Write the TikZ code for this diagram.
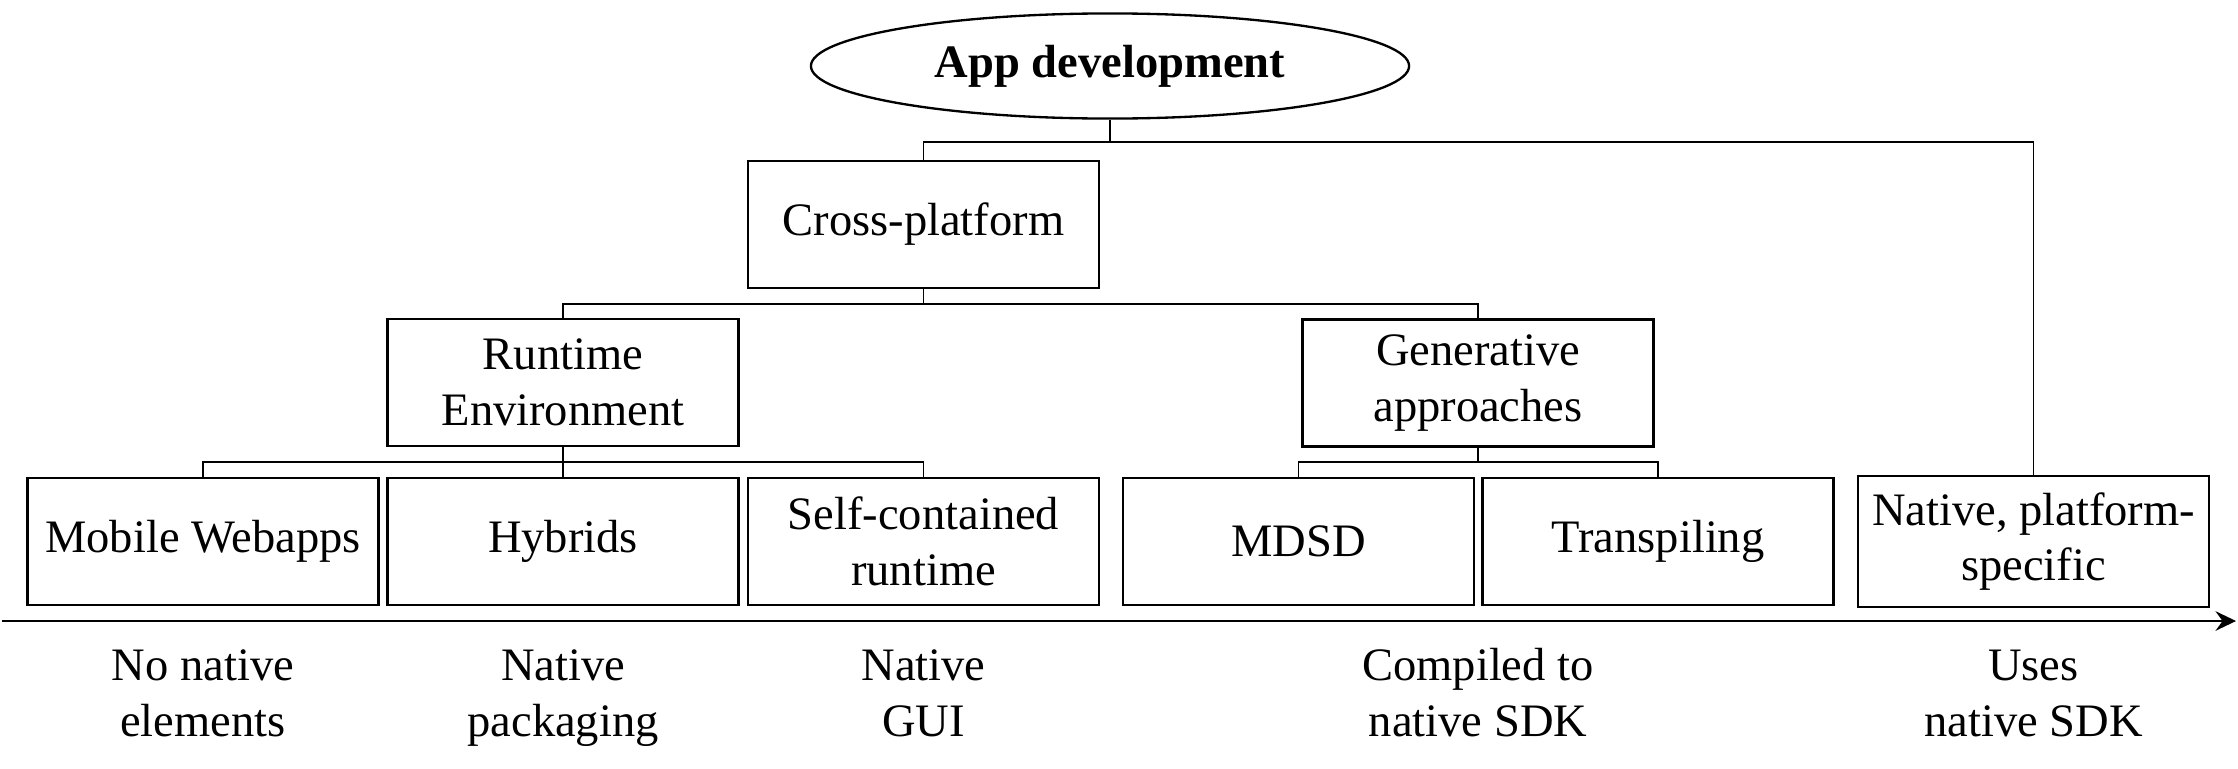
\documentclass[tikz,border=0pt]{standalone}
\usepackage{fontspec}
\setmainfont{Liberation Serif}
\usetikzlibrary{shapes.geometric,arrows.meta}
\tikzset{
  box/.style={draw,line width=0.5pt,minimum width=75.5pt,minimum height=27.3pt,align=center,inner sep=2pt},
  conn/.style={line width=0.4pt},
  lbl/.style={align=center,inner sep=0pt},
  axisline/.style={line width=0.5pt,-{Stealth[length=4.4pt,width=4.2pt,inset=1.5pt]}},
}
\begin{document}
\begin{tikzpicture}[x=0.215pt,y=-0.215pt]
\useasboundingbox (0,0) rectangle (2238,768);
\node[draw,ellipse,line width=0.5pt,minimum width=128.6pt,minimum height=22.6pt,inner sep=0pt,font=\bfseries] (app) at (1110,66) {App development};
\node[box] (cross) at (923.5,224.5) {Cross-platform};
\node[box] (runtime) at (563,382.5) {Runtime\\Environment};
\node[box] (gen) at (1478,383) {Generative\\approaches};
\node[box] (mobile) at (203,541.5) {Mobile Webapps};
\node[box] (hybrids) at (563,541.5) {Hybrids};
\node[box] (self) at (923.5,541.5) {Self-contained\\runtime};
\node[box] (mdsd) at (1298.5,541.5) {MDSD};
\node[box] (trans) at (1658,541.5) {Transpiling};
\node[box,minimum height=28.2pt] (native) at (2033.5,541.5) {Native, platform-\\specific};
\coordinate (bar1) at (0,142);
\coordinate (bar2) at (0,304);
\coordinate (bar3) at (0,462);
\draw[conn] (app.south) -- (app.south |- bar1) -| (cross.north);
\draw[conn] (app.south |- bar1) -| (native.north);
\draw[conn] (cross.south) -- (cross.south |- bar2) -| (runtime.north);
\draw[conn] (cross.south |- bar2) -| (gen.north);
\draw[conn] (runtime.south) -- (runtime.south |- bar3) -| (mobile.north);
\draw[conn] (runtime.south |- bar3) -| (self.north);
\draw[conn] (runtime.south) -- (hybrids.north);
\draw[conn] (gen.south) -- (gen.south |- bar3) -| (mdsd.north);
\draw[conn] (gen.south |- bar3) -| (trans.north);
\coordinate (axL) at (2,621);
\coordinate (axR) at (2236,621);
\draw[axisline] (axL) -- (axR);
\node[lbl] (l1) at (203,697) {\strut No native\\\strut elements};
\node[lbl] (l2) at (563,697) {\strut Native\\\strut packaging};
\node[lbl] (l3) at (923.5,697) {\strut Native\\\strut GUI};
\node[lbl] (l4) at (1478,697) {\strut Compiled to\\\strut native SDK};
\node[lbl] (l5) at (2033.5,697) {\strut Uses\\\strut native SDK};
\end{tikzpicture}
\end{document}
